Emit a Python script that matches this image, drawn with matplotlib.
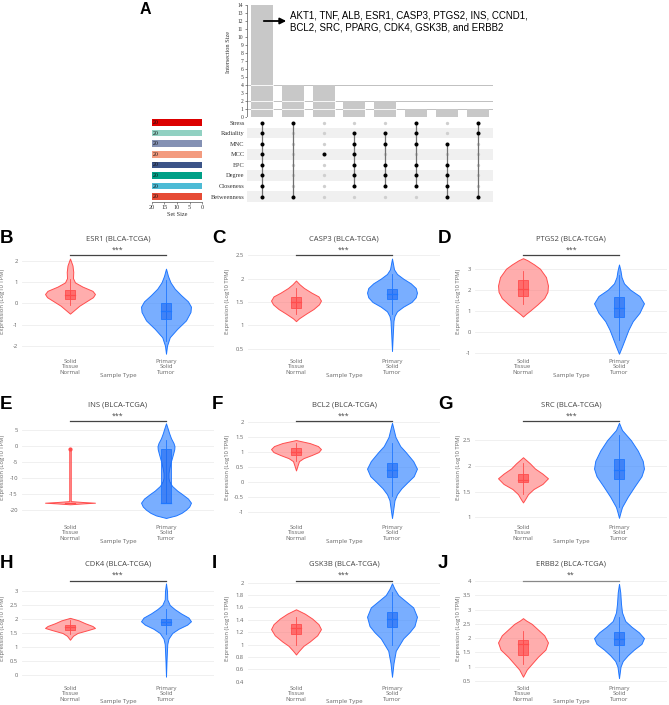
import matplotlib.pyplot as plt
import matplotlib.colors as mcolors
from matplotlib.patches import Rectangle
import numpy as np

W, H = 669, 705

# ---------------- panel A : UpSet data ----------------
set_names = ["Stress", "Radiality", "MNC", "MCC", "EPC", "Degree", "Closeness", "Betweenness"]
set_sizes = [20, 20, 20, 20, 20, 20, 20, 20]
set_colors = ["#DC0000", "#91D1C2", "#8491B4", "#F39B7F", "#3C5488", "#00A087", "#4DBBD5", "#E64B35"]
inter_sizes = [14, 4, 4, 2, 2, 1, 1, 1]
inter_sets = [
    ["Stress", "Radiality", "MNC", "MCC", "EPC", "Degree", "Closeness", "Betweenness"],
    ["Stress", "Betweenness"],
    ["MCC"],
    ["Radiality", "MNC", "MCC", "EPC", "Degree", "Closeness"],
    ["Radiality", "MNC", "EPC", "Degree", "Closeness"],
    ["Stress", "Radiality", "MNC", "EPC", "Degree", "Closeness"],
    ["MNC", "EPC", "Degree", "Closeness", "Betweenness"],
    ["Stress", "Radiality", "Betweenness"],
]
hub_line1 = "AKT1, TNF, ALB, ESR1, CASP3, PTGS2, INS, CCND1,"
hub_line2 = "BCL2, SRC, PPARG, CDK4, GSK3B, and ERBB2"

# ---------------- panels B-J : expression violins ----------------
groups = ["Solid\nTissue\nNormal", "Primary\nSolid\nTumor"]
genes = ["ESR1", "CASP3", "PTGS2", "INS", "BCL2", "SRC", "CDK4", "GSK3B", "ERBB2"]
letters = ["B", "C", "D", "E", "F", "G", "H", "I", "J"]
signif = ["***", "***", "***", "***", "***", "***", "***", "***", "**"]

# outline: y levels + relative half width ; box: whisker lo, q1, median, q3, whisker hi
esr1_n_y = [-0.48, -0.3, -0.1, 0.1, 0.3, 0.45, 0.6, 0.8, 1.0, 1.2, 1.5, 1.8, 2.13]
esr1_n_w = [0, 0.18, 0.38, 0.65, 0.92, 1.0, 0.9, 0.5, 0.2, 0.12, 0.13, 0.1, 0]
esr1_n_box = [-0.08, 0.19, 0.42, 0.62, 1.15]
esr1_t_y = [-2.38, -2.0, -1.6, -1.2, -0.8, -0.4, -0.15, 0.1, 0.4, 0.7, 1.0, 1.3, 1.65]
esr1_t_w = [0, 0.04, 0.15, 0.45, 0.8, 0.98, 1.0, 0.88, 0.6, 0.35, 0.18, 0.08, 0]
esr1_t_box = [-1.8, -0.72, -0.35, 0.03, 1.1]

casp3_n_y = [1.09, 1.15, 1.25, 1.35, 1.45, 1.53, 1.62, 1.7, 1.8, 1.88, 1.96]
casp3_n_w = [0, 0.12, 0.4, 0.7, 0.92, 1.0, 0.9, 0.62, 0.32, 0.14, 0]
casp3_n_box = [1.25, 1.37, 1.5, 1.61, 1.8]
casp3_t_y = [0.45, 0.8, 1.1, 1.2, 1.3, 1.4, 1.5, 1.6, 1.7, 1.8, 1.9, 2.0, 2.1, 2.2, 2.43]
casp3_t_w = [0, 0.03, 0.06, 0.1, 0.2, 0.45, 0.78, 0.95, 1.0, 0.95, 0.75, 0.45, 0.2, 0.08, 0]
casp3_t_box = [1.25, 1.57, 1.67, 1.78, 2.1]

ptgs2_n_y = [0.72, 0.85, 1.0, 1.3, 1.6, 1.9, 2.2, 2.6, 3.0, 3.2, 3.4, 3.5]
ptgs2_n_w = [0, 0.12, 0.28, 0.58, 0.85, 0.98, 1.0, 0.92, 0.68, 0.45, 0.18, 0]
ptgs2_n_box = [1.3, 1.7, 2.05, 2.47, 2.9]
ptgs2_t_y = [-1.05, -0.7, -0.3, 0.1, 0.5, 0.9, 1.35, 1.7, 2.0, 2.3, 2.6, 2.9, 3.2]
ptgs2_t_w = [0, 0.12, 0.25, 0.38, 0.55, 0.82, 1.0, 0.82, 0.45, 0.2, 0.1, 0.06, 0]
ptgs2_t_box = [-0.4, 0.72, 1.15, 1.65, 2.7]

ins_n_y = [-18.3, -18.0, -17.8, -17.6, -17.3, -1.0]
ins_n_w = [0, 0.55, 1.0, 0.55, 0.03, 0.03]
ins_n_box = [-17.8, -17.8, -17.8, -17.8, -17.8]
ins_n_outlier = [-1.0]
ins_t_y = [-22.6, -21.8, -21, -20, -19, -17.8, -16.5, -15, -14, -12.5, -11, -10,
           -8.5, -7, -5, -2.5, -1, 0, 1, 2.5, 4, 5.5, 7.2]
ins_t_w = [0, 0.4, 0.62, 0.8, 0.93, 1.0, 0.88, 0.63, 0.45, 0.24, 0.13, 0.1,
           0.1, 0.13, 0.19, 0.28, 0.33, 0.34, 0.3, 0.2, 0.13, 0.07, 0]
ins_t_box = [-17.8, -17.8, -17.8, -1.0, 2.1]

bcl2_n_y = [0.39, 0.55, 0.7, 0.8, 0.9, 1.0, 1.1, 1.2, 1.3, 1.4]
bcl2_n_w = [0, 0.06, 0.12, 0.3, 0.62, 0.9, 1.0, 0.88, 0.55, 0]
bcl2_n_box = [0.72, 0.9, 1.0, 1.12, 1.3]
bcl2_t_y = [-1.19, -0.9, -0.6, -0.4, -0.2, 0.0, 0.2, 0.45, 0.7, 1.0, 1.2, 1.5, 1.97]
bcl2_t_w = [0, 0.05, 0.1, 0.2, 0.38, 0.62, 0.87, 1.0, 0.85, 0.55, 0.33, 0.14, 0]
bcl2_t_box = [-0.45, 0.18, 0.42, 0.63, 1.3]

src_n_y = [1.29, 1.35, 1.45, 1.55, 1.65, 1.76, 1.85, 1.95, 2.05, 2.17]
src_n_w = [0, 0.08, 0.2, 0.42, 0.78, 1.0, 0.78, 0.48, 0.28, 0]
src_n_box = [1.45, 1.68, 1.73, 1.85, 2.05]
src_t_y = [0.99, 1.1, 1.2, 1.4, 1.6, 1.8, 1.95, 2.1, 2.3, 2.5, 2.6, 2.7, 2.84]
src_t_w = [0, 0.06, 0.12, 0.35, 0.62, 0.9, 1.0, 0.95, 0.75, 0.48, 0.3, 0.12, 0]
src_t_box = [1.2, 1.74, 1.92, 2.14, 2.6]

cdk4_n_y = [1.26, 1.4, 1.5, 1.6, 1.68, 1.75, 1.85, 1.95, 2.04]
cdk4_n_w = [0, 0.12, 0.3, 0.7, 1.0, 0.9, 0.6, 0.35, 0]
cdk4_n_box = [1.45, 1.62, 1.7, 1.77, 1.95]
cdk4_t_y = [-0.06, 0.5, 1.1, 1.3, 1.5, 1.65, 1.8, 1.92, 2.05, 2.2, 2.35, 2.5, 2.7, 3.0, 3.27]
cdk4_t_w = [0, 0.02, 0.05, 0.1, 0.25, 0.5, 0.85, 1.0, 0.9, 0.6, 0.35, 0.15, 0.05, 0.04, 0]
cdk4_t_box = [1.45, 1.78, 1.88, 2.0, 2.35]

gsk3b_n_y = [0.84, 0.9, 0.98, 1.05, 1.15, 1.25, 1.33, 1.42, 1.5, 1.57]
gsk3b_n_w = [0, 0.12, 0.3, 0.55, 0.85, 1.0, 0.9, 0.65, 0.35, 0]
gsk3b_n_box = [1.0, 1.17, 1.26, 1.34, 1.45]
gsk3b_t_y = [0.48, 0.7, 0.9, 1.0, 1.1, 1.2, 1.3, 1.45, 1.6, 1.7, 1.8, 1.9, 1.99]
gsk3b_t_w = [0, 0.06, 0.15, 0.3, 0.45, 0.7, 0.9, 1.0, 0.85, 0.55, 0.25, 0.1, 0]
gsk3b_t_box = [1.0, 1.28, 1.42, 1.52, 1.85]

erbb2_n_y = [0.65, 0.9, 1.1, 1.35, 1.6, 1.85, 2.1, 2.3, 2.5, 2.62, 2.7]
erbb2_n_w = [0, 0.15, 0.35, 0.6, 0.9, 1.0, 0.85, 0.6, 0.35, 0.12, 0]
erbb2_n_box = [1.08, 1.4, 1.8, 1.95, 2.25]
erbb2_t_y = [0.6, 1.0, 1.2, 1.4, 1.6, 1.8, 2.0, 2.2, 2.4, 2.6, 2.9, 3.2, 3.6, 3.9]
erbb2_t_w = [0, 0.06, 0.15, 0.35, 0.6, 0.9, 1.0, 0.8, 0.5, 0.25, 0.12, 0.08, 0.05, 0]
erbb2_t_box = [1.2, 1.75, 1.97, 2.22, 2.75]

yticks = [
    [-2, -1, 0, 1, 2],
    [0.5, 1, 1.5, 2, 2.5],
    [-1, 0, 1, 2, 3],
    [-20, -15, -10, -5, 0, 5],
    [-1, -0.5, 0, 0.5, 1, 1.5, 2],
    [1, 1.5, 2, 2.5],
    [0, 0.5, 1, 1.5, 2, 2.5, 3],
    [0.4, 0.6, 0.8, 1, 1.2, 1.4, 1.6, 1.8, 2],
    [0.5, 1, 1.5, 2, 2.5, 3, 3.5, 4],
]

normal = [
    (esr1_n_y, esr1_n_w, esr1_n_box), (casp3_n_y, casp3_n_w, casp3_n_box),
    (ptgs2_n_y, ptgs2_n_w, ptgs2_n_box), (ins_n_y, ins_n_w, ins_n_box),
    (bcl2_n_y, bcl2_n_w, bcl2_n_box), (src_n_y, src_n_w, src_n_box),
    (cdk4_n_y, cdk4_n_w, cdk4_n_box), (gsk3b_n_y, gsk3b_n_w, gsk3b_n_box),
    (erbb2_n_y, erbb2_n_w, erbb2_n_box),
]
tumor = [
    (esr1_t_y, esr1_t_w, esr1_t_box), (casp3_t_y, casp3_t_w, casp3_t_box),
    (ptgs2_t_y, ptgs2_t_w, ptgs2_t_box), (ins_t_y, ins_t_w, ins_t_box),
    (bcl2_t_y, bcl2_t_w, bcl2_t_box), (src_t_y, src_t_w, src_t_box),
    (cdk4_t_y, cdk4_t_w, cdk4_t_box), (gsk3b_t_y, gsk3b_t_w, gsk3b_t_box),
    (erbb2_t_y, erbb2_t_w, erbb2_t_box),
]

# layout (pixels) ---------------------------------------------
# tick anchors: (high value, pixel, low value, pixel)
anchors = [
    (2, 261.3, -2, 345.7), (2.5, 255.3, 0.5, 348.7), (3, 268.7, -1, 352.7),
    (5, 430.3, -20, 509.7), (2, 422, -1, 512.3), (2.5, 440.3, 1, 517.3),
    (3, 591, 0, 675), (2, 582.7, 0.4, 681.7), (4, 581, 0.5, 681),
]
col_left = [22, 248, 475]
plot_w = 192
row_top = [248, 414, 574]
row_bot = [355, 521, 682]
sig_px = [255.3, 421.3, 580.7]
title_px = [239, 404.5, 564]
stype_px = [376, 542, 701]
letter_x = [0, 212, 438]
ylab_x = [5, 230, 461]

plt.rcParams['font.family'] = ['Open Sans', 'DejaVu Sans']
fig = plt.figure(figsize=(W / 100, H / 100), dpi=100)


def ax_px(l, t, r, b):
    return fig.add_axes([l / W, 1 - b / H, (r - l) / W, (b - t) / H])


def ftxt(x, y, s, **kw):
    fig.text(x / W, 1 - y / H, s, **kw)


# ================= panel A =================
serif = ['Liberation Serif', 'DejaVu Serif']
n_int = len(inter_sizes)
x_left, x_right = 246.6, 493
ax_bar = ax_px(x_left, 5.3, x_right, 117.3)
xs = np.arange(n_int)
for lev in [1, 2, 4]:
    ax_bar.axhline(lev, color='#b5b5b5', lw=0.6, zorder=0)
ax_bar.bar(xs, inter_sizes, width=0.71, color='#c8c8c8', zorder=1)
for lev in [1, 2, 4]:
    for xi, v in zip(xs, inter_sizes):
        if v > lev:
            ax_bar.plot([xi - 0.355, xi + 0.355], [lev, lev], color='white', lw=0.6, zorder=2)
ax_bar.set_xlim(-0.5, n_int - 0.5)
ax_bar.set_ylim(0, 14)
ax_bar.set_yticks(range(15))
ax_bar.set_yticklabels([str(i) for i in range(15)], fontsize=4, family=serif, color='#333')
ax_bar.tick_params(axis='y', length=1.5, width=0.4, pad=1, colors='#333')
ax_bar.set_xticks([])
for s in ['top', 'right', 'bottom']:
    ax_bar.spines[s].set_visible(False)
ax_bar.spines['left'].set_linewidth(0.5)
ax_bar.spines['left'].set_color('#555')
ftxt(228, 52, "Intersection Size", rotation=90, ha='center', va='center',
     fontsize=4.5, family=serif, color='#333')

ax_bar.annotate('', xy=(289, H - 21), xytext=(261, H - 21), xycoords='figure pixels',
                textcoords='figure pixels',
                arrowprops=dict(arrowstyle='-|>', color='black', lw=1.3, mutation_scale=9))
ftxt(290, 15.7, hub_line1, fontsize=7, family=['Liberation Sans', 'DejaVu Sans'], va='center')
ftxt(290, 27, hub_line2, fontsize=7, family=['Liberation Sans', 'DejaVu Sans'], va='center')
ftxt(140, 9, "A", fontsize=11.5, fontweight='bold', family=['Liberation Sans', 'DejaVu Sans'],
     va='center', ha='left')

# matrix
ax_m = ax_px(x_left, 117.3, x_right, 201.9)
n_set = len(set_names)
for r in range(n_set):
    if r % 2 == 1:
        ax_m.axhspan(r - 0.5, r + 0.5, color='#f0f0f0', zorder=0, lw=0)
for c, members in enumerate(inter_sets):
    rows = [set_names.index(m) for m in members]
    ax_m.plot([c] * n_set, range(n_set), 'o', color='#cfcfcf', ms=2.4, mec='none', zorder=1)
    if len(rows) > 1:
        ax_m.plot([c, c], [min(rows), max(rows)], color='#707070', lw=0.9, zorder=2)
    ax_m.plot([c] * len(rows), rows, 'o', color='black', ms=2.9, mec='none', zorder=3)
ax_m.set_xlim(-0.5, n_int - 0.5)
ax_m.set_ylim(n_set - 0.5, -0.5)
ax_m.set_xticks([])
ax_m.set_yticks(range(n_set))
ax_m.set_yticklabels(set_names, fontsize=4.6, family=serif, color='#333')
ax_m.tick_params(axis='y', length=0, pad=1.5)
for s in ax_m.spines.values():
    s.set_visible(False)

# set size bars
ax_s = ax_px(151.7, 117.3, 202.3, 201.9)
ax_s.barh(range(n_set), set_sizes, height=0.63, color=set_colors)
for r, v in enumerate(set_sizes):
    ax_s.text(v - 0.3, r, str(v), ha='left', va='center', fontsize=4.2, family=serif, color='#111')
ax_s.set_ylim(n_set - 0.5, -0.5)
ax_s.set_xlim(20, 0)
ax_s.set_xticks([20, 15, 10, 5, 0])
ax_s.set_xticklabels(['20', '15', '10', '5', '0'], fontsize=4.5, family=serif, color='#333')
ax_s.tick_params(axis='x', length=1.5, width=0.4, pad=1, colors='#333')
ax_s.set_yticks([])
ax_s.set_xlabel("Set Size", fontsize=4.5, family=serif, color='#333', labelpad=1)
for s in ['top', 'right', 'left']:
    ax_s.spines[s].set_visible(False)
ax_s.spines['bottom'].set_linewidth(0.5)
ax_s.spines['bottom'].set_color('#555')

# ================= panels B-J =================
HALF = 0.26
BOXW = 0.055
red_edge, red_fill, red_box = '#ff4d4d', '#ff6b6b', '#ff4040'
blue_edge, blue_fill, blue_box = '#1f77ff', '#3a88ff', '#1a66f0'


def violin(ax, x0, ys, ws, box, edge, fill, boxc, alpha):
    ys = np.asarray(ys, float)
    hw = np.asarray(ws, float) * HALF
    ax.fill_betweenx(ys, x0 - hw, x0 + hw, facecolor=mcolors.to_rgba(fill, alpha),
                     edgecolor=edge, lw=0.7, zorder=2, clip_on=False)
    lo, q1, med, q3, hi = box
    ax.plot([x0, x0], [lo, hi], color=edge, lw=0.6, zorder=3, clip_on=False)
    ax.add_patch(Rectangle((x0 - BOXW, q1), 2 * BOXW, q3 - q1,
                           facecolor=mcolors.to_rgba(boxc, 0.6), edgecolor=edge,
                           lw=0.6, zorder=4, clip_on=False))
    ax.plot([x0 - BOXW, x0 + BOXW], [med, med], color=edge, lw=0.9, zorder=5, clip_on=False)


for i, gene in enumerate(genes):
    row, col = divmod(i, 3)
    l = col_left[col]
    top, bot = row_top[row], row_bot[row]
    ax = ax_px(l, top, l + plot_w, bot)
    v1, p1, v2, p2 = anchors[i]
    k = (p2 - p1) / (v1 - v2)
    ax.set_ylim(v2 - (bot - p2) / k, v1 + (p1 - top) / k)
    ax.set_xlim(-0.5, 1.5)

    ny, nw, nb = normal[i]
    ty, tw, tb = tumor[i]
    violin(ax, 0, ny, nw, nb, red_edge, red_fill, red_box, 0.55)
    violin(ax, 1, ty, tw, tb, blue_edge, blue_fill, blue_box, 0.68)
    if gene == "INS":
        ax.plot([0] * len(ins_n_outlier), ins_n_outlier, 'o', color=red_edge, ms=2, zorder=5)

    ax.set_yticks(yticks[i])
    ax.set_yticklabels([f"{v:g}" for v in yticks[i]], fontsize=4.2, color='#666')
    ax.tick_params(axis='y', length=0, pad=3)
    ax.grid(axis='y', color='#eeeeee', lw=0.6)
    ax.set_axisbelow(True)
    ax.set_xticks([0, 1])
    ax.set_xticklabels(groups, fontsize=4.2, color='#666', linespacing=1.05)
    ax.tick_params(axis='x', length=0, pad=3)
    for s in ax.spines.values():
        s.set_visible(False)
    ax.set_ylabel("Expression (Log10 TPM)", fontsize=4.2, color='#666')
    ax.yaxis.set_label_coords((ylab_x[col] - l) / plot_w, 0.5)

    ys = v1 + (p1 - sig_px[row]) / k
    sig_col = '#888888' if signif[i] == "**" else '#444444'
    ax.plot([0, 1], [ys, ys], color=sig_col, lw=0.9, clip_on=False, zorder=6)
    ax.text(0.5, ys + 1.5 / k, signif[i], ha='center', va='bottom', fontsize=5, color='#444')

    ftxt(l + 96, title_px[row], f"{gene} (BLCA-TCGA)", ha='center', va='center',
         fontsize=5.5, color='#444')
    ftxt(l + 96, stype_px[row], "Sample Type", ha='center', va='center', fontsize=4.4, color='#666')
    ftxt(letter_x[col], title_px[row], letters[i], ha='left', va='center', fontsize=13.5,
         fontweight='bold', family=['Liberation Sans', 'DejaVu Sans'])

fig.savefig("out.png", dpi=100)
